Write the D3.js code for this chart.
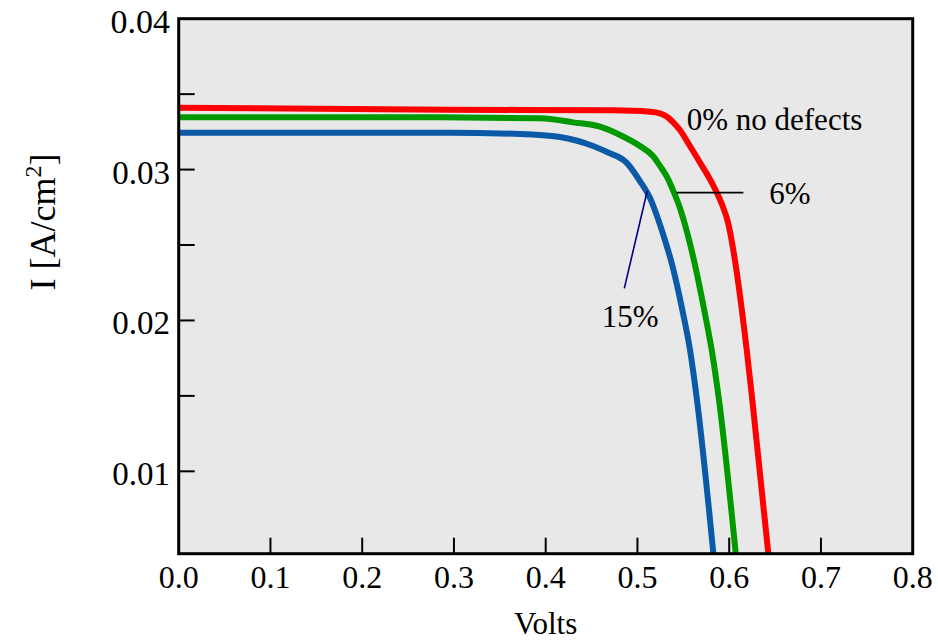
<!DOCTYPE html>
<html>
<head>
<meta charset="utf-8">
<script src="https://cdn.jsdelivr.net/npm/d3@7"></script>
<style>
  body { margin: 0; background: #fff; }
  svg text { font-family: "Liberation Serif", "Times New Roman", Times, serif; fill: #000; }
</style>
</head>
<body>
<div id="chart"></div>
<script>
// I-V curves (volts, A/cm^2)
const volts0 = [0, 0.2935, 0.4733, 0.5137, 0.5246, 0.5322, 0.5387, 0.5463, 0.5572, 0.5681, 0.5823, 0.5932, 0.5986, 0.6041, 0.6191, 0.6252, 0.6426];
const amps0  = [0.03410, 0.03397, 0.03393, 0.03384, 0.03373, 0.03350, 0.03315, 0.03262, 0.03156, 0.03047, 0.02898, 0.02752, 0.02652, 0.02480, 0.01804, 0.01472, 0.00458];

const volts6 = [0, 0.2848, 0.3938, 0.4298, 0.4592, 0.4810, 0.5027, 0.5169, 0.5246, 0.5322, 0.5387, 0.5463, 0.5540, 0.5605, 0.5736, 0.5813, 0.5889, 0.6071];
const amps6  = [0.03346, 0.03346, 0.03340, 0.03313, 0.03284, 0.03229, 0.03156, 0.03090, 0.03024, 0.02951, 0.02864, 0.02745, 0.02586, 0.02427, 0.02043, 0.01791, 0.01472, 0.00458];

const volts15 = [0, 0.2935, 0.3720, 0.4156, 0.4516, 0.4668, 0.4886, 0.5027, 0.5137, 0.5213, 0.5289, 0.5376, 0.5485, 0.5573, 0.5649, 0.5827];
const amps15  = [0.03244, 0.03244, 0.03236, 0.03216, 0.03156, 0.03116, 0.03043, 0.02924, 0.02811, 0.02692, 0.02553, 0.02374, 0.02082, 0.01804, 0.01472, 0.00458];

const xTicks = [0, 0.1, 0.2, 0.3, 0.4, 0.5, 0.6, 0.7, 0.8];
const xTickLabels = ["0.0", "0.1", "0.2", "0.3", "0.4", "0.5", "0.6", "0.7", "0.8"];
const yTicks = [0.01, 0.02, 0.03, 0.04];
const yTickLabels = ["0.01", "0.02", "0.03", "0.04"];
const yMinor = [0.015, 0.025, 0.035];

// annotation anchors in data units
const labelNames = ["0% no defects", "6%", "15%"];
const labelV = [0.5537, 0.6437, 0.4610];
const labelI = [0.03262, 0.02772, 0.01958];

const colors = { "0%": "#ff0000", "6%": "#009900", "15%": "#0a5aa8" };

const series = [
  { name: "0%", v: volts0, i: amps0 },
  { name: "6%", v: volts6, i: amps6 },
  { name: "15%", v: volts15, i: amps15 }
];

let W = 938, H = 641;
let plot = { left: 178.7, right: 912.7, top: 18.7, bottom: 553.7 };

let svg = d3.select("#chart").append("svg")
  .attr("width", W)
  .attr("height", H)
  .attr("font-family", "'Liberation Serif', 'Times New Roman', Times, serif");

let x = d3.scaleLinear().domain([0, 0.8]).range([plot.left, plot.right]);
let y = d3.scaleLinear().domain([0.00454, 0.04]).range([plot.bottom, plot.top]);

// plot background
svg.append("rect")
  .attr("x", plot.left).attr("y", plot.top)
  .attr("width", plot.right - plot.left)
  .attr("height", plot.bottom - plot.top)
  .attr("fill", "#e8e8e8");

svg.append("clipPath").attr("id", "clip")
  .append("rect")
  .attr("x", plot.left).attr("y", plot.top)
  .attr("width", plot.right - plot.left)
  .attr("height", plot.bottom - plot.top);

// curves
let line = d3.line()
  .x(d => x(d[0]))
  .y(d => y(d[1]))
  .curve(d3.curveMonotoneX);

svg.append("g").attr("clip-path", "url(#clip)")
  .selectAll("path")
  .data(series)
  .enter()
  .append("path")
  .attr("d", s => line(s.v.map((v, k) => [v, s.i[k]])))
  .attr("fill", "none")
  .attr("stroke", s => colors[s.name])
  .attr("stroke-width", 6)
  .attr("stroke-linejoin", "round");

// leader lines
svg.append("line")
  .attr("x1", x(0.5428)).attr("x2", x(0.6154))
  .attr("y1", y(0.02847)).attr("y2", y(0.02847))
  .attr("stroke", "#000").attr("stroke-width", 1.6);

svg.append("line")
  .attr("x1", x(0.5107)).attr("y1", y(0.02860))
  .attr("x2", x(0.4857)).attr("y2", y(0.02213))
  .attr("stroke", "#000080").attr("stroke-width", 1.6);

// annotation text
svg.append("g")
  .selectAll("text")
  .data(labelNames)
  .enter()
  .append("text")
  .attr("x", (d, k) => x(labelV[k]))
  .attr("y", (d, k) => y(labelI[k]))
  .attr("font-size", 31)
  .text(d => d);

// x ticks (inward)
svg.append("g")
  .selectAll("line")
  .data(xTicks.filter(t => t > 0 && t < 0.8))
  .enter()
  .append("line")
  .attr("x1", d => x(d)).attr("x2", d => x(d))
  .attr("y1", plot.bottom).attr("y2", plot.bottom - 16)
  .attr("stroke", "#000").attr("stroke-width", 2);

svg.append("g")
  .selectAll("text")
  .data(xTicks)
  .enter()
  .append("text")
  .attr("x", d => x(d))
  .attr("y", 588)
  .attr("text-anchor", "middle")
  .attr("font-size", 32)
  .text((d, k) => xTickLabels[k]);

// y ticks (inward), major + minor
svg.append("g")
  .selectAll("line")
  .data(yTicks.filter(t => t < 0.04).concat(yMinor))
  .enter()
  .append("line")
  .attr("x1", plot.left).attr("x2", plot.left + 16)
  .attr("y1", d => y(d)).attr("y2", d => y(d))
  .attr("stroke", "#000").attr("stroke-width", 2);

svg.append("g")
  .selectAll("text")
  .data(yTicks)
  .enter()
  .append("text")
  .attr("x", 170)
  .attr("y", d => y(d) + 14)
  .attr("text-anchor", "end")
  .attr("font-size", (d) => d == 0.04 ? 34 : 33)
  .text((d, k) => yTickLabels[k]);

// frame
svg.append("rect")
  .attr("x", plot.left).attr("y", plot.top)
  .attr("width", plot.right - plot.left)
  .attr("height", plot.bottom - plot.top)
  .attr("fill", "none")
  .attr("stroke", "#000")
  .attr("stroke-width", 3);

// axis titles
svg.append("text")
  .attr("x", (plot.left + plot.right) / 2)
  .attr("y", 634)
  .attr("text-anchor", "middle")
  .attr("font-size", 31)
  .text("Volts");

let yl = svg.append("text")
  .attr("transform", "translate(55,222) rotate(-90)")
  .attr("text-anchor", "middle")
  .attr("font-size", 36);
yl.append("tspan").text("I [A/cm");
yl.append("tspan").attr("dy", -14).attr("font-size", 24).text("2");
yl.append("tspan").attr("dy", 14).text("]");
</script>
</body>
</html>
